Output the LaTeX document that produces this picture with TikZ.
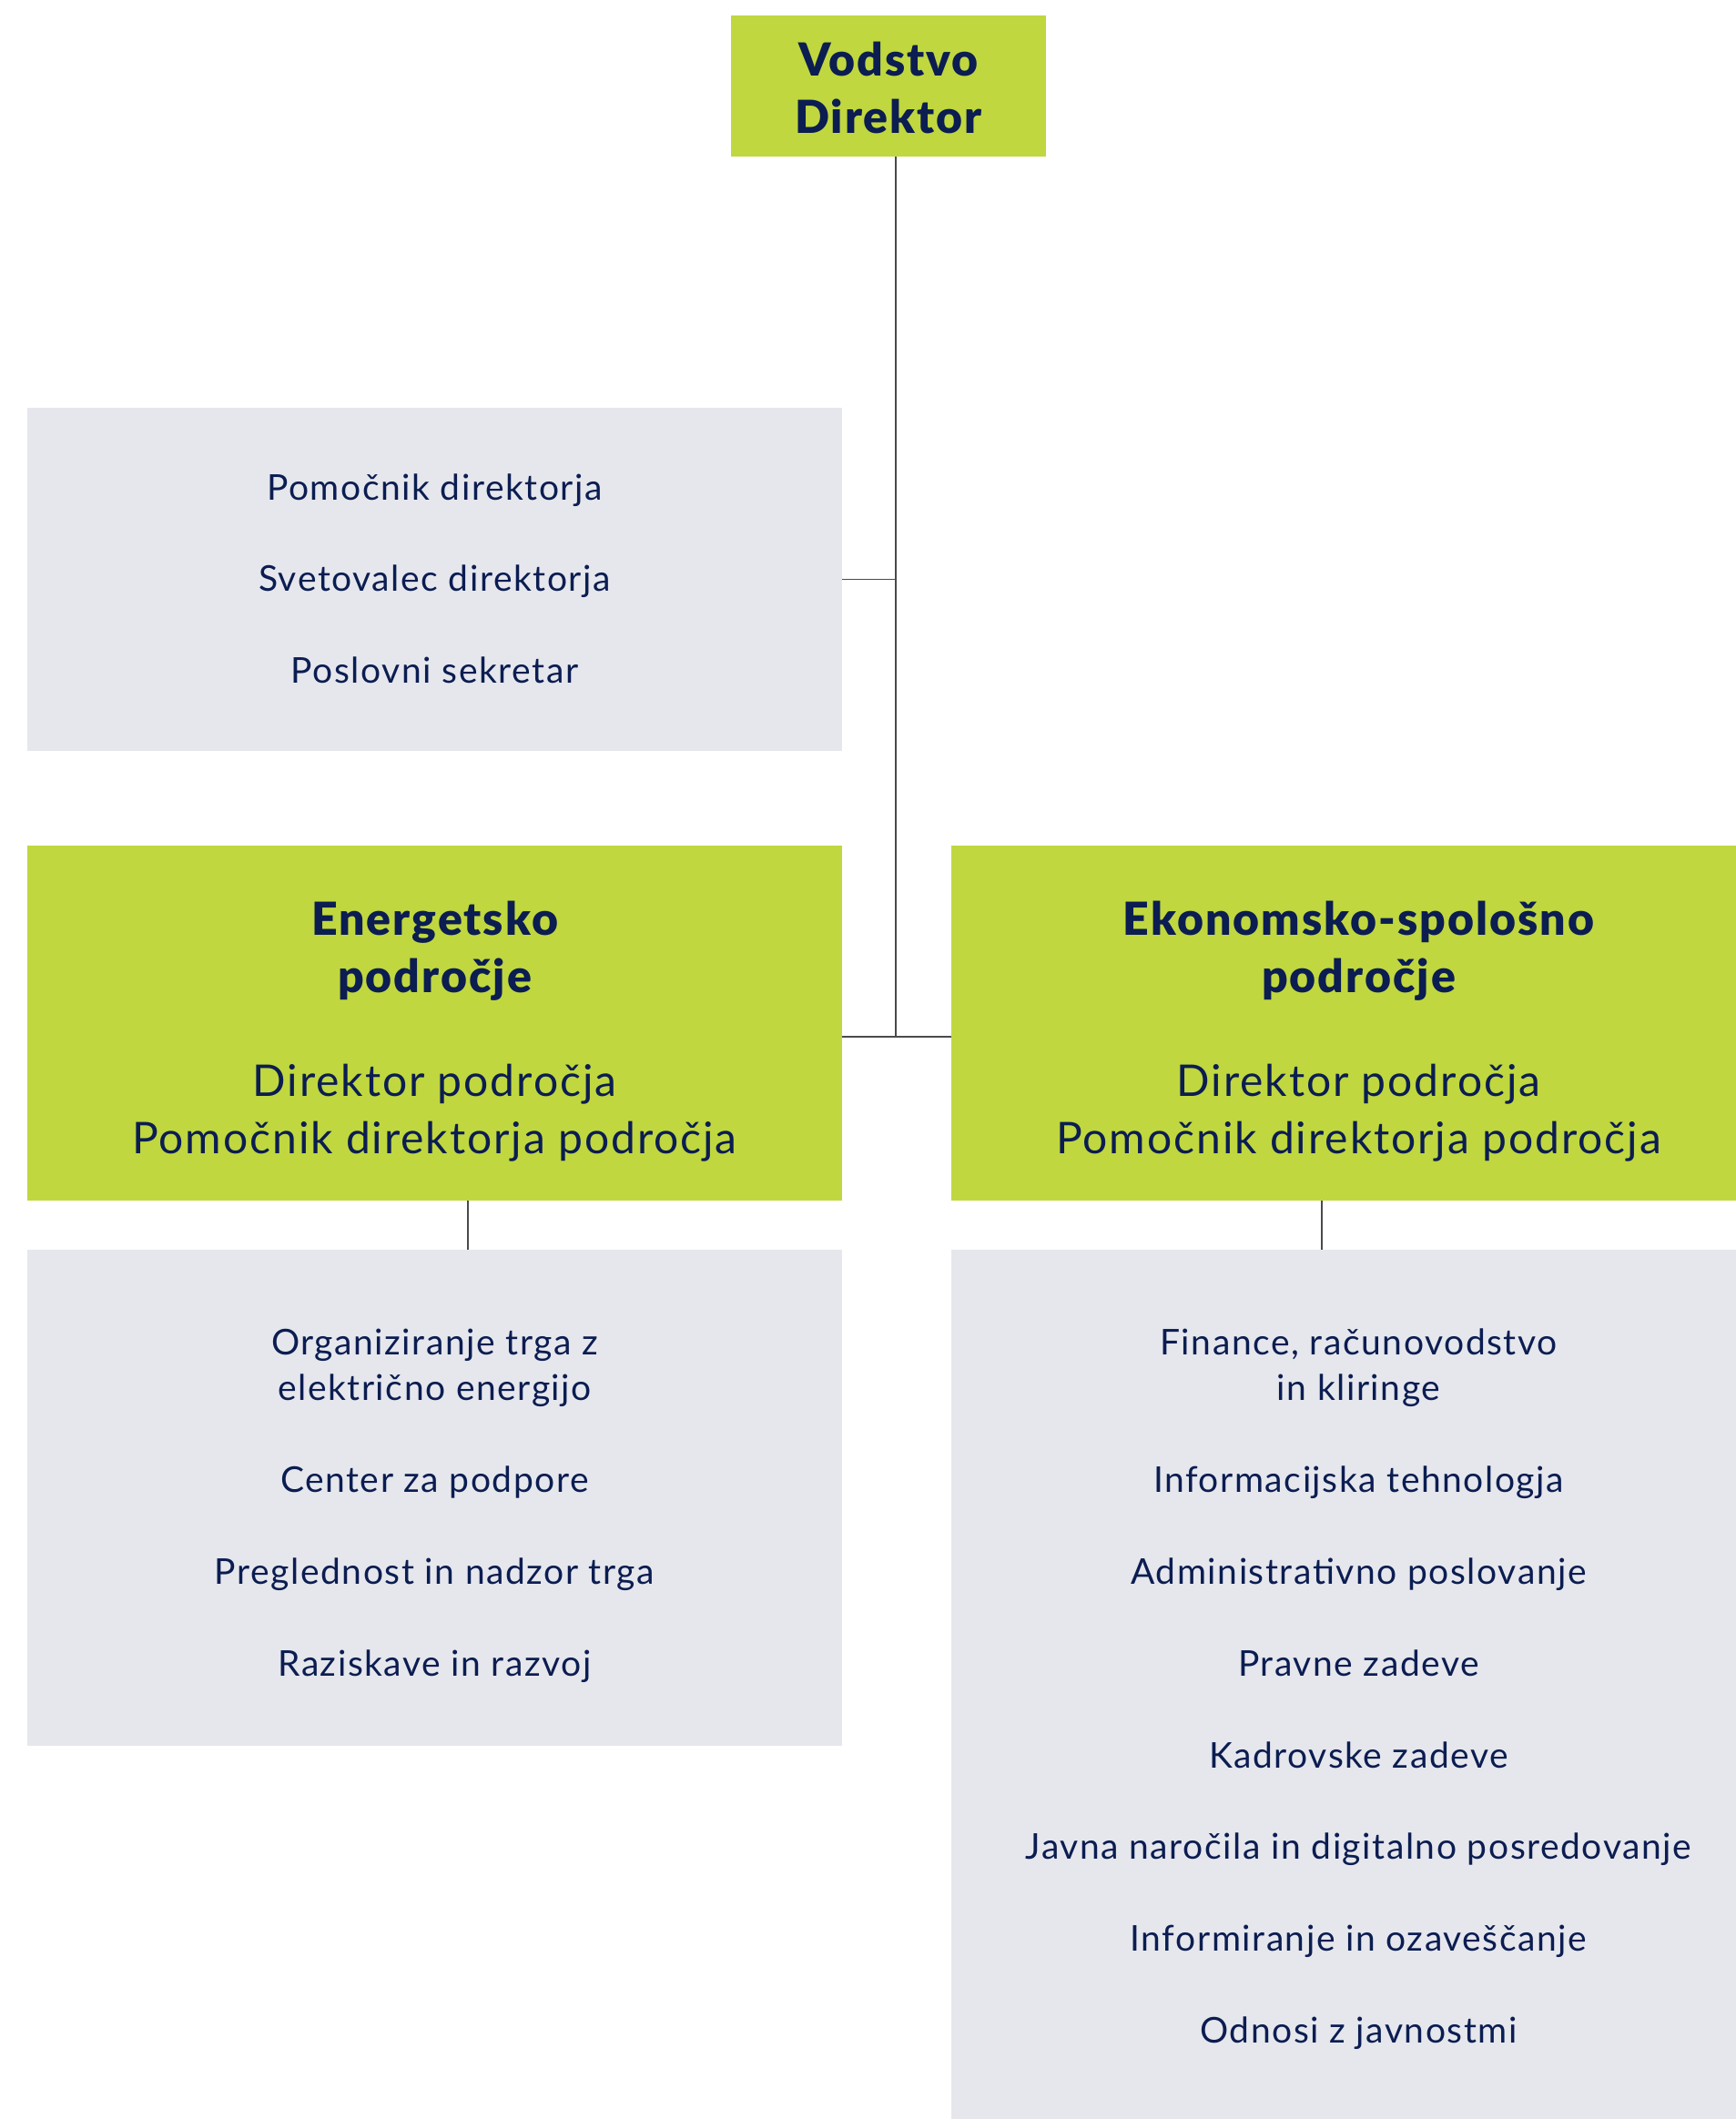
\documentclass[tikz,border=0pt]{standalone}
\usepackage{fontspec}
\setmainfont{Lato}[LetterSpace=4,BoldFont={Lato Black}]
\begin{document}
\begin{tikzpicture}[x=1pt,y=-1pt,
    box/.style={inner sep=0pt,minimum width=447.5pt},
    zelenbox/.style={box,fill=zelena},
    sivbox/.style={box,fill=siva},
    postavka/.style={anchor=base,text=modra,align=center,font=\fontsize{19.5}{25}\selectfont},
    vloga/.style={anchor=base,text=modra,font=\fontsize{24}{31.5}\selectfont},
    naslov/.style={anchor=base,text=modra,align=center,font=\bfseries\fontsize{25}{31.5}\selectfont},
    povezava/.style={draw=crta,line width=0.8pt}]
		\definecolor{zelena}{HTML}{C0D73F}
		\definecolor{siva}{HTML}{E6E7ED}
		\definecolor{modra}{HTML}{0B1D51}
		\definecolor{crta}{HTML}{4A4A4A}
		\useasboundingbox[fill=white] (0,0) rectangle (953,1164);
		\node[zelenbox,minimum width=173pt,minimum height=77.5pt] (vodstvo) at (488,47.25) {};
		\node[naslov] (vodstvo-t) at (488,73.5) {Vodstvo\\Direktor};
		\node[sivbox,minimum height=188.5pt] (kabinet) at (238.75,318.25) {};
		\node[postavka] (k1) at (238.75,274.5) {Pomočnik direktorja};
		\node[postavka] (k2) at (238.75,324.75) {Svetovalec direktorja};
		\node[postavka] (k3) at (238.75,375) {Poslovni sekretar};
		\node[zelenbox,minimum height=195pt] (energetsko) at (238.75,562) {};
		\node[naslov] (energetsko-t) at (238.75,545) {Energetsko\\področje};
		\node[vloga] (energetsko-d) at (238.75,602) {Direktor področja};
		\node[vloga] (energetsko-p) at (238.75,633.5) {Pomočnik direktorja področja};
		\node[zelenbox,minimum height=195pt] (ekonomsko) at (746.25,562) {};
		\node[naslov] (ekonomsko-t) at (746.25,545) {Ekonomsko-spološno\\področje};
		\node[vloga] (ekonomsko-d) at (746.25,602) {Direktor področja};
		\node[vloga] (ekonomsko-p) at (746.25,633.5) {Pomočnik direktorja področja};
		\node[sivbox,minimum height=272.5pt] (odseki-e) at (238.75,822.75) {};
		\node[postavka] (e1) at (238.75,769) {Organiziranje trga z\\električno energijo};
		\node[postavka] (e2) at (238.75,819.5) {Center za podpore};
		\node[postavka] (e3) at (238.75,870) {Preglednost in nadzor trga};
		\node[postavka] (e4) at (238.75,920.5) {Raziskave in razvoj};
		\node[sivbox,minimum height=483.5pt] (odseki-ek) at (746.25,928.25) {};
		\node[postavka] (s1) at (746.25,769) {Finance, računovodstvo\\in kliringe};
		\node[postavka] (s2) at (746.25,819.5) {Informacijska tehnologja};
		\node[postavka] (s3) at (746.25,870) {Administrativno poslovanje};
		\node[postavka] (s4) at (746.25,920.5) {Pravne zadeve};
		\node[postavka] (s5) at (746.25,971) {Kadrovske zadeve};
		\node[postavka] (s6) at (746.25,1021) {Javna naročila in digitalno posredovanje};
		\node[postavka] (s7) at (746.25,1071.5) {Informiranje in ozaveščanje};
		\node[postavka] (s8) at (746.25,1122) {Odnosi z javnostmi};
		\coordinate (vozel) at (492,569.5);
		\coordinate (spoj-e) at (257,0);
		\coordinate (spoj-ek) at (726,0);
		\draw[povezava] (vodstvo.south -| vozel) -- (vozel);
		\draw[povezava] (kabinet.east) -- (kabinet.east -| vozel);
		\draw[povezava] (energetsko.east |- vozel) -- (ekonomsko.west |- vozel);
		\draw[povezava] (energetsko.south -| spoj-e) -- (odseki-e.north -| spoj-e);
		\draw[povezava] (ekonomsko.south -| spoj-ek) -- (odseki-ek.north -| spoj-ek);
	\end{tikzpicture}
\end{document}
